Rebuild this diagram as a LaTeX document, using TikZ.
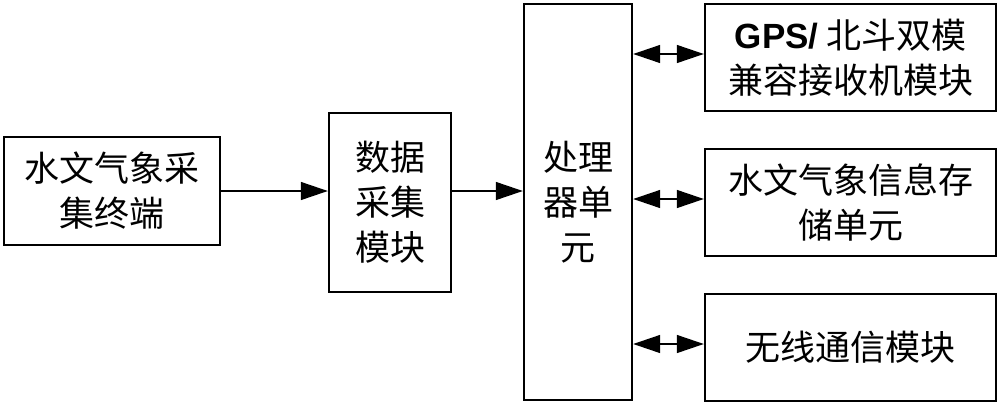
\documentclass[tikz,border=0pt]{standalone}
\usepackage{fontspec}
\setmainfont{Liberation Sans}
\newfontfamily\cjk{Noto Sans CJK SC}
\newfontfamily\lat{Liberation Sans}
\usetikzlibrary{arrows.meta}
\begin{document}
\begin{tikzpicture}[x=1pt,y=-1pt,
  blk/.style={draw,line width=2.4pt,inner sep=0pt,align=center,
    font=\cjk\fontsize{35}{45}\selectfont},
  conn/.style={line width=1.4pt,-{Triangle[length=27pt,width=18pt]}},
  dconn/.style={line width=1.4pt,{Triangle[length=27pt,width=18pt]}-{Triangle[length=27pt,width=18pt]}}]
\fill[white] (0,0) rectangle (1000,410);
\useasboundingbox (0,0) rectangle (1000,410);
\node[blk,minimum width=216pt,minimum height=108pt] (term) at (112,191) {水文气象采\\集终端};
\node[blk,minimum width=122pt,minimum height=179pt] (daq) at (390,202.5) {数据\\采集\\模块};
\node[blk,minimum width=108pt,minimum height=396pt] (cpu) at (578,202) {处理\\器单\\元};
\node[blk,minimum width=291pt,minimum height=107pt] (gps) at (850.5,57.5) {{\lat\bfseries GPS/} 北斗双模\\兼容接收机模块};
\node[blk,minimum width=291pt,minimum height=107pt] (store) at (850.5,202.5) {水文气象信息存\\储单元};
\node[blk,minimum width=291pt,minimum height=107pt] (wl) at (850.5,347.5) {无线通信模块};
\draw[conn] (term.east) -- (term.east -| daq.west);
\draw[conn] (term.east -| daq.east) -- (term.east -| cpu.west);
\coordinate (g) at ([yshift=3.5pt]gps.west);
\coordinate (s) at ([yshift=3.5pt]store.west);
\coordinate (w) at ([yshift=3.5pt]wl.west);
\draw[dconn] (g -| cpu.east) -- (g);
\draw[dconn] (s -| cpu.east) -- (s);
\draw[dconn] (w -| cpu.east) -- (w);
\end{tikzpicture}
\end{document}
